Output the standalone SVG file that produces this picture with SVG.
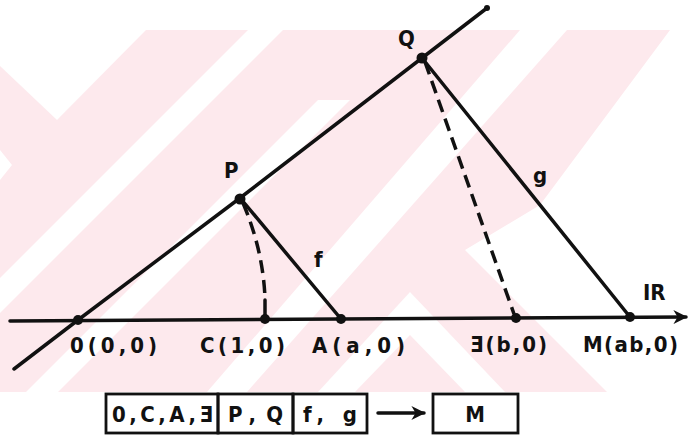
<svg xmlns="http://www.w3.org/2000/svg" width="694" height="447" viewBox="0 0 694 447">
<defs>
<style>
.ln{stroke:#111;stroke-width:3.5;fill:none;stroke-linecap:round;stroke-linejoin:round}
.ds{stroke:#111;stroke-width:3.5;fill:none;stroke-dasharray:13 7}
.dot{fill:#111}
.t{font-family:"DejaVu Sans Condensed","DejaVu Sans","Liberation Sans",sans-serif;font-stretch:condensed;font-weight:bold;font-size:22px;fill:#111}
.box{fill:none;stroke:#111;stroke-width:2.8}
.wm{fill:#fde9ed}
.wh{fill:#fff}
</style>
<marker id="arr" viewBox="0 0 10 10" refX="9" refY="5" markerWidth="4" markerHeight="4" orient="auto" markerUnits="strokeWidth">
<path d="M0,0 L10,5 L0,10 L3,5 Z" fill="#111"/>
</marker>
</defs>
<rect width="694" height="447" fill="#fff"/>
<g id="watermark">
<rect class="wm" x="0" y="30" width="694" height="362"/>
<polygon class="wh" points="0,30 146,30 57,120 0,66"/>
<polygon class="wh" points="0,150 12,165 0,180"/>
<polygon class="wh" points="248,30 283,30 0,313 0,278"/>
<polygon class="wh" points="318,100 350,100 58,392 26,392"/>
<polygon class="wh" points="520,30 567,30 247,392 207,392"/>
<polygon class="wh" points="410,292 505,392 465,392 410,335 355,392 318,392"/>
<polygon class="wh" points="670,30 694,30 694,392 607,392 465,250 540,205"/>
</g>
<g id="connectors">
<line class="ln" x1="10" y1="321" x2="686" y2="317" marker-end="url(#arr)"/>
<polyline class="ln" points="14,369 78,320 240,198 422,58 487,8"/>
<line class="ln" x1="241" y1="199" x2="341" y2="319"/>
<line class="ln" x1="422" y1="58" x2="630" y2="317"/>
<line class="ds" x1="425" y1="62" x2="514" y2="314"/>
<path class="ds" d="M243,203 Q263,250 265,298"/>
<line class="ln" x1="265" y1="300" x2="265" y2="318"/>
</g>
<g id="points">
<circle class="dot" cx="487" cy="8" r="3"/>
<g id="O"><circle class="dot" cx="78" cy="320" r="5"/><text class="t" x="70" y="353" textLength="87">0(0,0)</text></g>
<g id="C"><circle class="dot" cx="265" cy="319" r="5"/><text class="t" x="200" y="353" textLength="85">C(1,0)</text></g>
<g id="A"><circle class="dot" cx="341" cy="319" r="5"/><text class="t" x="312" y="353" textLength="93">A(a,0)</text></g>
<g id="B"><circle class="dot" cx="516" cy="318" r="5"/><text class="t" x="470" y="352" textLength="77">Ǝ(b,0)</text></g>
<g id="M"><circle class="dot" cx="630" cy="317" r="5"/><text class="t" x="583" y="352" textLength="95">M(ab,0)</text></g>
<g id="P"><circle class="dot" cx="240" cy="199" r="5.5"/><text class="t" x="224" y="178">P</text></g>
<g id="Q"><circle class="dot" cx="422" cy="58" r="5.5"/><text class="t" x="398" y="46">Q</text></g>
<g id="f"><text class="t" x="314" y="267">f</text></g>
<g id="g"><text class="t" x="533" y="183">g</text></g>
<g id="IR"><text class="t" x="643" y="300">IR</text></g>
</g>
<g id="legend">
<rect class="box" x="106" y="394" width="112" height="39"/>
<rect class="box" x="218" y="394" width="75" height="39"/>
<rect class="box" x="293" y="394" width="74" height="39"/>
<rect class="box" x="433" y="394" width="85" height="39"/>
<text class="t" x="112" y="422" textLength="101">0,C,A,Ǝ</text>
<text class="t" x="228" y="422" textLength="55">P,Q</text>
<text class="t" x="303" y="422" textLength="54">f, g</text>
<text class="t" x="475" y="422" text-anchor="middle">M</text>
<line class="ln" x1="378" y1="413" x2="424" y2="413" marker-end="url(#arr)"/>
</g>
</svg>
